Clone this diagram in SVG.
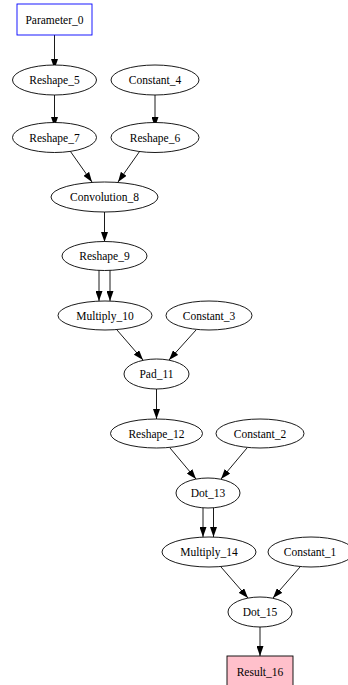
<svg xmlns="http://www.w3.org/2000/svg" width="348" height="685" viewBox="0 0 348 685">
<style>
  .n ellipse, .n rect { stroke: #000; stroke-width: 0.9; }
  .n ellipse { fill: #fff; }
  text { font-family: "Liberation Serif", "Times New Roman", serif; font-size: 11.5px; text-anchor: middle; fill: #000; }
  .e line { stroke: #000; stroke-width: 0.9; marker-end: url(#ah); }
</style>
<defs>
  <marker id="ah" viewBox="0 0 10 7" refX="10" refY="3.5" markerWidth="10" markerHeight="7" markerUnits="userSpaceOnUse" orient="auto">
    <path d="M0,0 L10,3.5 L0,7 Z" fill="#000"/>
  </marker>
</defs>
<rect width="348" height="685" fill="#fff"/>
<g id="edges" class="e">
  <line x1="54.5" y1="35" x2="54.5" y2="69"/>
  <line x1="54.5" y1="90" x2="54.5" y2="127"/>
  <line x1="155" y1="90" x2="155" y2="127"/>
  <line x1="68" y1="148" x2="92" y2="182"/>
  <line x1="142" y1="148" x2="118" y2="182"/>
  <line x1="104.5" y1="212" x2="104.5" y2="242"/>
  <line x1="99" y1="270" x2="99" y2="301"/>
  <line x1="110" y1="270" x2="110" y2="301"/>
  <line x1="117" y1="330" x2="143" y2="360"/>
  <line x1="196" y1="330" x2="169" y2="360"/>
  <line x1="156.5" y1="389" x2="156.5" y2="419"/>
  <line x1="170" y1="448" x2="196" y2="479"/>
  <line x1="247" y1="448" x2="221" y2="479"/>
  <line x1="203" y1="508" x2="203" y2="537"/>
  <line x1="213.5" y1="508" x2="213.5" y2="537"/>
  <line x1="221" y1="567" x2="248" y2="598"/>
  <line x1="300" y1="567" x2="273" y2="598"/>
  <line x1="260" y1="627" x2="260" y2="656"/>
</g>
<g id="Parameter_0" class="n"><rect x="17" y="4" width="75" height="31" fill="#fff" style="stroke:#0000ff"/><text x="54.5" y="23.5">Parameter_0</text></g>
<g id="Reshape_5" class="n"><ellipse cx="54.5" cy="80" rx="42" ry="15"/><text x="54.5" y="84">Reshape_5</text></g>
<g id="Constant_4" class="n"><ellipse cx="155" cy="80" rx="44" ry="15"/><text x="155" y="84">Constant_4</text></g>
<g id="Reshape_7" class="n"><ellipse cx="54.5" cy="137.5" rx="42" ry="15"/><text x="54.5" y="141.5">Reshape_7</text></g>
<g id="Reshape_6" class="n"><ellipse cx="155" cy="137.5" rx="44" ry="15"/><text x="155" y="141.5">Reshape_6</text></g>
<g id="Convolution_8" class="n"><ellipse cx="104.5" cy="197" rx="53.5" ry="15"/><text x="104.5" y="201">Convolution_8</text></g>
<g id="Reshape_9" class="n"><ellipse cx="104.5" cy="256" rx="42.5" ry="14.5"/><text x="104.5" y="260">Reshape_9</text></g>
<g id="Multiply_10" class="n"><ellipse cx="105" cy="315.5" rx="47" ry="14.5"/><text x="105" y="319.5">Multiply_10</text></g>
<g id="Constant_3" class="n"><ellipse cx="209" cy="315.5" rx="43" ry="14.5"/><text x="209" y="319.5">Constant_3</text></g>
<g id="Pad_11" class="n"><ellipse cx="156.5" cy="374" rx="32.5" ry="15"/><text x="156.5" y="378">Pad_11</text></g>
<g id="Reshape_12" class="n"><ellipse cx="156.5" cy="433.5" rx="46" ry="14.5"/><text x="156.5" y="437.5">Reshape_12</text></g>
<g id="Constant_2" class="n"><ellipse cx="260" cy="433.5" rx="44" ry="14.5"/><text x="260" y="437.5">Constant_2</text></g>
<g id="Dot_13" class="n"><ellipse cx="208" cy="493" rx="32" ry="15"/><text x="208" y="497">Dot_13</text></g>
<g id="Multiply_14" class="n"><ellipse cx="209" cy="552" rx="47" ry="15"/><text x="209" y="556">Multiply_14</text></g>
<g id="Constant_1" class="n"><ellipse cx="311" cy="552" rx="43" ry="15"/><text x="310" y="556">Constant_1</text></g>
<g id="Dot_15" class="n"><ellipse cx="260" cy="612" rx="32" ry="15"/><text x="260" y="616">Dot_15</text></g>
<g id="Result_16" class="n"><rect x="227" y="656" width="66" height="33" fill="#ffc0cb"/><text x="260" y="676">Result_16</text></g>
</svg>
